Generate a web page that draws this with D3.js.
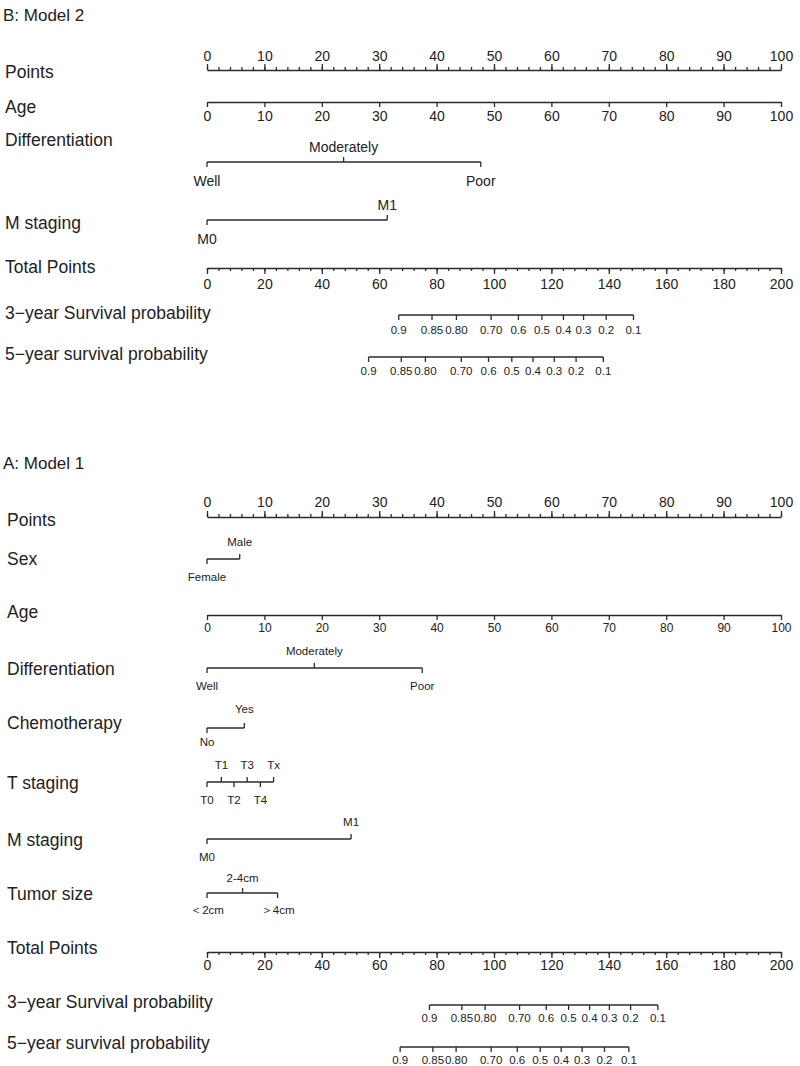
<!DOCTYPE html>
<html>
<head>
<meta charset="utf-8">
<script src="https://cdn.jsdelivr.net/npm/d3@7/dist/d3.min.js"></script>
<style>
  body { margin: 0; background: #fff; }
  text { font-family: "Liberation Sans", Arial, sans-serif; fill: #222; }
</style>
</head>
<body>
<svg class="chart"></svg>
<script>
// axis tick labels
var pointTicks = [0, 10, 20, 30, 40, 50, 60, 70, 80, 90, 100];
var totalTicks = [0, 20, 40, 60, 80, 100, 120, 140, 160, 180, 200];
var survLabels = ["0.9", "0.85", "0.80", "0.70", "0.6", "0.5", "0.4", "0.3", "0.2", "0.1"];

// B: Model 2  (points per level)
var diffLevelsB = ["Well", "Moderately", "Poor"];
var diffPointsB = [0, 23.8, 47.7];
var mLevelsB = ["M0", "M1"];
var mPointsB = [0, 31.4];
var surv3B = [66.8, 78.4, 86.9, 99.0, 108.5, 116.7, 124.2, 131.2, 139.1, 148.6];
var surv5B = [56.3, 67.7, 76.1, 88.6, 98.1, 106.2, 113.6, 121.0, 128.6, 138.1];

// A: Model 1
var sexLevelsA = ["Female", "Male"];
var sexPointsA = [0, 5.7];
var diffLevelsA = ["Well", "Moderately", "Poor"];
var diffPointsA = [0, 18.7, 37.5];
var chemoLevelsA = ["No", "Yes"];
var chemoPointsA = [0, 6.5];
var tLevelsA = ["T0", "T1", "T2", "T3", "T4", "Tx"];
var tPointsA = [0, 2.5, 4.7, 7.0, 9.3, 11.6];
var mLevelsA = ["M0", "M1"];
var mPointsA = [0, 25.1];
var sizeLevelsA = ["\uFF1C2cm", "2-4cm", "\uFF1E4cm"];
var sizePointsA = [0, 6.2, 12.3];
var surv3A = [77.5, 88.8, 96.9, 108.9, 118.2, 126.0, 133.3, 140.2, 147.6, 157.1];
var surv5A = [67.3, 78.7, 86.8, 99.0, 108.1, 116.1, 123.4, 130.7, 138.5, 147.0];

var W = 800, H = 1066, ink = "#2b2b2b";

var svg = d3.select(".chart").attr("width", W).attr("height", H);

var x = d3.scaleLinear().domain([0, 100]).range([207, 781]);
var xt = d3.scaleLinear().domain([0, 200]).range([207, 781]);

function rowLabel(y, txt, lx) {
    svg.append("text").attr("x", lx).attr("y", y).attr("dy", "0.35em")
        .style("font-size", "17.5px").text(txt);
}

function styleAxis(g, fs) {
    g.selectAll("path, line").attr("stroke", ink).attr("stroke-width", 1.3);
    g.selectAll("text").style("font-size", fs + "px").attr("fill", "#222")
        .attr("font-family", null);
}

function pointsAxis(y, fs, pad) {
    svg.append("g").attr("transform", "translate(0," + y + ")")
        .call(d3.axisTop(x).tickValues(d3.range(0, 101, 2)).tickSize(3).tickSizeOuter(0).tickFormat(""))
        .call(function (g) { styleAxis(g, fs); });
    svg.append("g").attr("transform", "translate(0," + y + ")")
        .call(d3.axisTop(x).tickValues(pointTicks).tickSize(6).tickSizeOuter(0).tickPadding(pad))
        .call(function (g) { g.select(".domain").remove(); styleAxis(g, fs); });
}

function ageAxis(y, fs, pad) {
    svg.append("g").attr("transform", "translate(0," + y + ")")
        .call(d3.axisBottom(x).tickValues(pointTicks).tickSize(5).tickSizeOuter(0).tickPadding(pad))
        .call(function (g) { styleAxis(g, fs); });
}

function totalAxis(y, fs, pad) {
    svg.append("g").attr("transform", "translate(0," + y + ")")
        .call(d3.axisBottom(xt).tickValues(d3.range(0, 201, 4)).tickSize(3).tickSizeOuter(0).tickFormat(""))
        .call(function (g) { styleAxis(g, fs); });
    svg.append("g").attr("transform", "translate(0," + y + ")")
        .call(d3.axisBottom(xt).tickValues(totalTicks).tickSize(6).tickSizeOuter(0).tickPadding(pad))
        .call(function (g) { g.select(".domain").remove(); styleAxis(g, fs); });
}

// categorical row: levels alternate below / above the line
function catRow(y, levels, pts, fs, up, down) {
    var g = svg.append("g");
    g.append("line").attr("x1", x(d3.min(pts))).attr("x2", x(d3.max(pts)))
        .attr("y1", y).attr("y2", y).attr("stroke", ink).attr("stroke-width", 1.3);
    var lv = levels.map(function (d, i) { return { name: d, p: pts[i], above: i % 2 == 1 }; });
    g.selectAll(".tk").data(lv).enter().append("line")
        .attr("x1", function (d) { return x(d.p); })
        .attr("x2", function (d) { return x(d.p); })
        .attr("y1", y)
        .attr("y2", function (d) { return d.above ? y - 5 : y + 5; })
        .attr("stroke", ink).attr("stroke-width", 1.3);
    g.selectAll(".lb").data(lv).enter().append("text")
        .attr("x", function (d) { return x(d.p); })
        .attr("y", function (d) { return d.above ? y - up : y + down; })
        .attr("text-anchor", "middle")
        .style("font-size", fs + "px")
        .text(function (d) { return d.name; });
}

function survRow(y, pts, fs, down) {
    var g = svg.append("g");
    g.append("line").attr("x1", xt(d3.min(pts))).attr("x2", xt(d3.max(pts)))
        .attr("y1", y).attr("y2", y).attr("stroke", ink).attr("stroke-width", 1.3);
    var lv = survLabels.map(function (d, i) { return { name: d, p: pts[i] }; });
    g.selectAll(".tk").data(lv).enter().append("line")
        .attr("x1", function (d) { return xt(d.p); })
        .attr("x2", function (d) { return xt(d.p); })
        .attr("y1", y).attr("y2", y + 5)
        .attr("stroke", ink).attr("stroke-width", 1.3);
    g.selectAll(".lb").data(lv).enter().append("text")
        .attr("x", function (d) { return xt(d.p); })
        .attr("y", y + down)
        .attr("text-anchor", "middle")
        .style("font-size", fs + "px")
        .text(function (d) { return d.name; });
}

// ---------- B: Model 2 ----------
svg.append("text").attr("x", 3).attr("y", 15).attr("dy", "0.35em")
    .style("font-size", "17px").text("B: Model 2");

rowLabel(72, "Points", 5);
pointsAxis(70, 14, 3);
rowLabel(107, "Age", 5);
ageAxis(102, 14, 4);
rowLabel(140, "Differentiation", 5);
catRow(162, diffLevelsB, diffPointsB, 14, 10, 24);
rowLabel(223, "M staging", 5);
catRow(220, mLevelsB, mPointsB, 14, 10, 24);
rowLabel(267, "Total Points", 5);
totalAxis(268, 14, 5);
rowLabel(313, "3\u2212year Survival probability", 5);
survRow(315, surv3B, 11.5, 19);
rowLabel(354, "5\u2212year survival probability", 5);
survRow(357, surv5B, 11.5, 18);

// ---------- A: Model 1 ----------
svg.append("text").attr("x", 3).attr("y", 463).attr("dy", "0.35em")
    .style("font-size", "17px").text("A: Model 1");

rowLabel(520, "Points", 7);
pointsAxis(517, 14, 4);
rowLabel(559, "Sex", 7);
catRow(559, sexLevelsA, sexPointsA, 11.5, 13, 22);
rowLabel(612, "Age", 7);
ageAxis(615, 12, 3);
rowLabel(669, "Differentiation", 7);
catRow(668, diffLevelsA, diffPointsA, 11.5, 13, 22);
rowLabel(723, "Chemotherapy", 7);
catRow(728, chemoLevelsA, chemoPointsA, 11.5, 15, 18);
rowLabel(783, "T staging", 7);
catRow(782, tLevelsA, tPointsA, 11.5, 13, 22);
rowLabel(840, "M staging", 7);
catRow(839, mLevelsA, mPointsA, 11.5, 13, 22);
rowLabel(894, "Tumor size", 7);
catRow(893, sizeLevelsA, sizePointsA, 11.5, 11, 21);
rowLabel(948, "Total Points", 7);
totalAxis(952, 14, 2);
rowLabel(1002, "3\u2212year Survival probability", 7);
survRow(1005, surv3A, 11.5, 17);
rowLabel(1043, "5\u2212year survival probability", 7);
survRow(1047, surv5A, 11.5, 17);
</script>
</body>
</html>
